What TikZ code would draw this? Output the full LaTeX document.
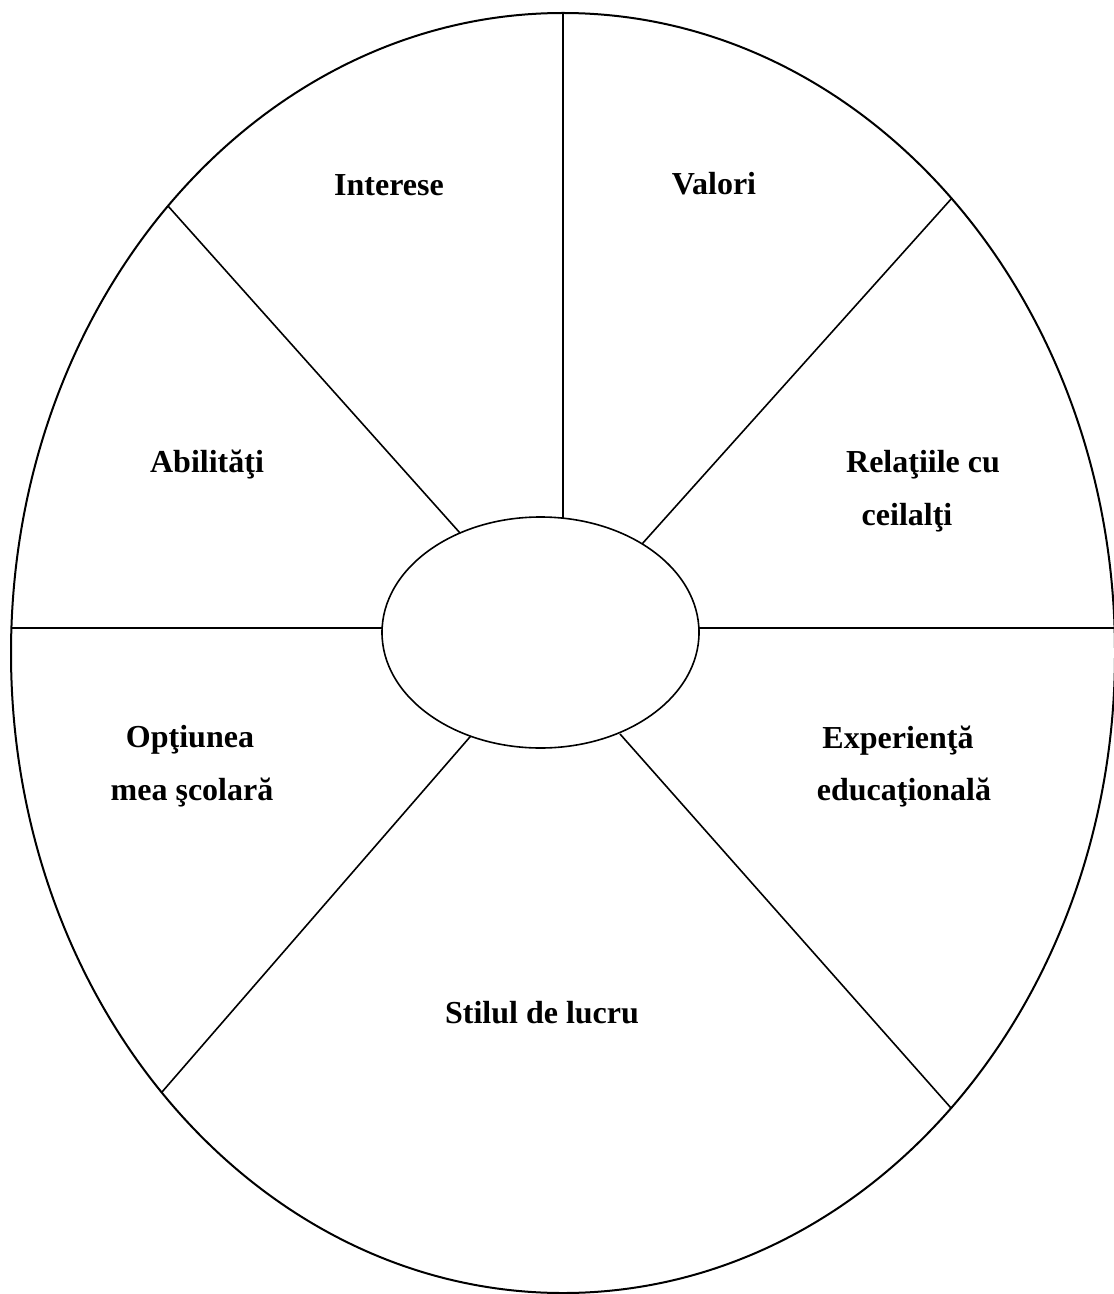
\documentclass[tikz,border=0pt]{standalone}
\usepackage{fontspec}
\setmainfont{Liberation Serif}
\usetikzlibrary{shapes.geometric}
\tikzset{
  rim/.style={ellipse, draw, line width=1pt, inner sep=0pt, outer sep=0pt},
  divider/.style={line width=0.8pt},
  sector/.style={anchor=base, inner sep=0pt, font=\fontsize{16}{20}\selectfont\bfseries}
}
\begin{document}
\begin{tikzpicture}[x=0.5pt,y=-0.5pt]
  \useasboundingbox (0,0) rectangle (1113,1294);
  % the two rings
  \node[rim, minimum width=552pt, minimum height=640pt] (outer) at (563,653) {};
  \node[rim, line width=0.8pt, minimum width=158.5pt, minimum height=115.5pt] (hub) at (540.5,632.5) {};
  % spoke ends on the hub
  \coordinate (h1) at (563,518);
  \coordinate (h2) at (460,533);
  \coordinate (h3) at (642,544);
  \coordinate (h4) at (382.1,628);
  \coordinate (h5) at (698.9,628);
  \coordinate (h6) at (470.6,736.2);
  \coordinate (h7) at (620,734);
  % spoke ends on the rim
  \coordinate (r1) at (563,13);
  \coordinate (r2) at (168,206);
  \coordinate (r3) at (952,198);
  \coordinate (r4) at (11.4,628);
  \coordinate (r5) at (1114.6,628);
  \coordinate (r6) at (162,1092);
  \coordinate (r7) at (951,1108);
  \begin{scope}[divider]
    \foreach \i in {1,...,7}
      \draw (h\i) -- (r\i);
  \end{scope}
  % sectors
  \node[sector] (interese) at (389,196) {Interese};
  \node[sector] (valori) at (714,195) {Valori};
  \node[sector] (abilitati) at (207,472) {Abilităţi};
  \node[sector] (relatii) at (923,472) {Relaţiile cu};
  \node[sector] (ceilalti) at (907,525) {ceilalţi};
  \node[sector] (optiunea) at (190,747) {Opţiunea};
  \node[sector] (scolara) at (192,800) {mea şcolară};
  \node[sector] (experienta) at (898,748) {Experienţă};
  \node[sector] (educationala) at (904,800) {educaţională};
  \node[sector] (stilul) at (542,1023) {Stilul de lucru};
\end{tikzpicture}
\end{document}
